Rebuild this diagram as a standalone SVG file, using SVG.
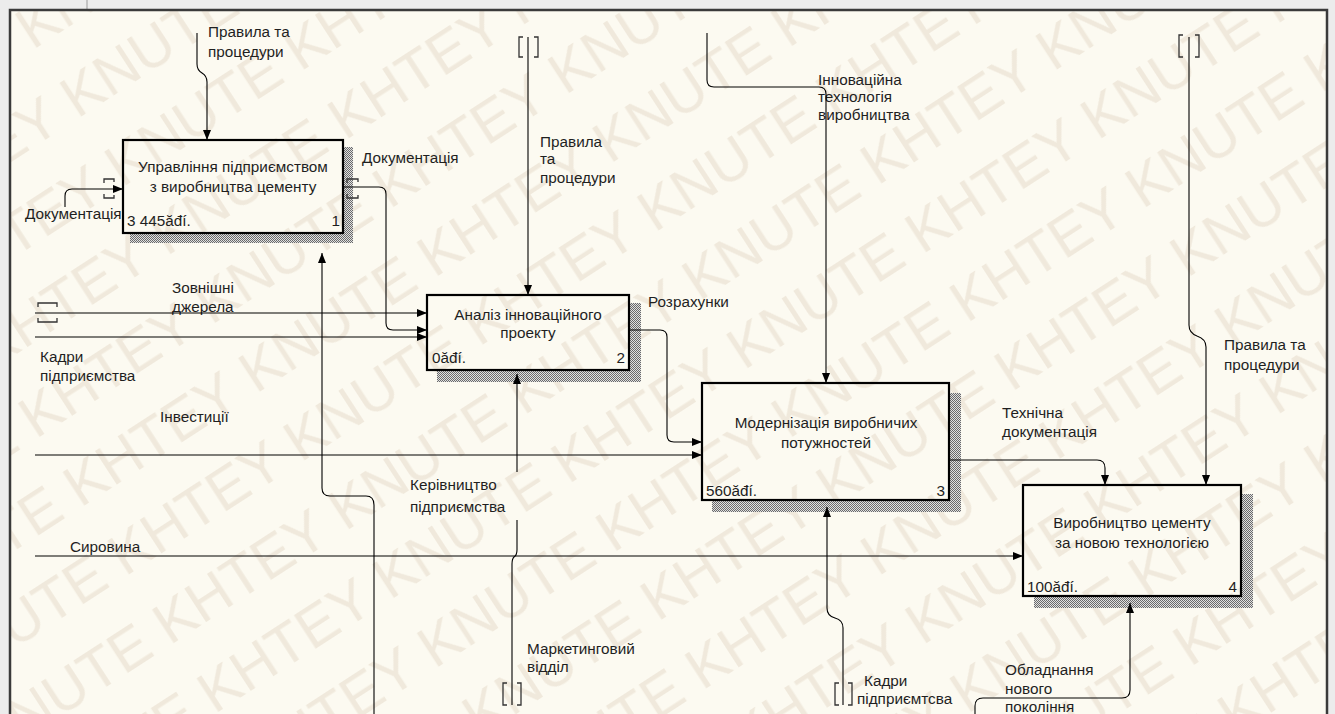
<svg xmlns="http://www.w3.org/2000/svg" width="1335" height="714" viewBox="0 0 1335 714">
<defs>
<style>
.t{font-family:"Liberation Sans",Arial,sans-serif;font-size:15.3px;fill:#1f1f1f}
.c{text-anchor:middle}
.e{text-anchor:end}
.box{fill:none;stroke:#000;stroke-width:2.2}
.ln{fill:none;stroke:#000;stroke-width:1.1}
.ar{marker-end:url(#ah)}
.br{fill:none;stroke:#333;stroke-width:1.3}
.wm{font-family:"Liberation Sans",Arial,sans-serif;font-size:58px;fill:#F0E9DC}
</style>
<marker id="ah" markerUnits="userSpaceOnUse" markerWidth="11" markerHeight="9" refX="10" refY="4" orient="auto">
<path d="M0,0 L10,4 L0,8 z" fill="#000"/>
</marker>
<pattern id="hatch" patternUnits="userSpaceOnUse" width="2" height="2">
<rect width="2" height="2" fill="#e0e0e0"/>
<rect width="1" height="1" fill="#6a6a6a"/>
<rect x="1" y="1" width="1" height="1" fill="#6a6a6a"/>
</pattern>
<pattern id="wmp" patternUnits="userSpaceOnUse" width="422" height="82" patternTransform="rotate(-33)">
<text class="wm" x="0" y="60">KNUTE KHTEY </text>
</pattern>
</defs>
<rect width="1335" height="714" fill="#ECECEC"/>
<line x1="87" y1="0" x2="87" y2="9" stroke="#9a9a9a" stroke-width="1"/>
<rect x="10" y="10" width="1317" height="720" fill="#FCFAF1"/>
<rect x="10" y="10" width="1317" height="720" fill="url(#wmp)"/>
<rect x="10" y="10" width="1317" height="720" fill="none" stroke="#3a3a3a" stroke-width="2.5"/>

<g id="labels">
<text class="t" x="208" y="37">Правила та</text>
<text class="t" x="208" y="57">процедури</text>
<text class="t" x="25" y="219">Документація</text>
<text class="t" x="362" y="163">Документація</text>
<text class="t" x="540" y="147">Правила</text>
<text class="t" x="540" y="164">та</text>
<text class="t" x="540" y="183">процедури</text>
<text class="t" x="818" y="85">Інноваційна</text>
<text class="t" x="818" y="102">технологія</text>
<text class="t" x="818" y="120">виробництва</text>
<text class="t" x="172" y="293">Зовнішні</text>
<text class="t" x="172" y="312">джерела</text>
<text class="t" x="40" y="362">Кадри</text>
<text class="t" x="40" y="381">підприємства</text>
<text class="t" x="648" y="307">Розрахунки</text>
<text class="t" x="160" y="422">Інвестиції</text>
<text class="t" x="1002" y="418">Технічна</text>
<text class="t" x="1002" y="437">документація</text>
<text class="t" x="1224" y="350">Правила та</text>
<text class="t" x="1224" y="370">процедури</text>
<text class="t" x="410" y="490">Керівництво</text>
<text class="t" x="410" y="512">підприємства</text>
<text class="t" x="70" y="552">Сировина</text>
<text class="t" x="527" y="654">Маркетинговий</text>
<text class="t" x="527" y="672">відділ</text>
<text class="t" x="864" y="686">Кадри</text>
<text class="t" x="857" y="704">підприємтсва</text>
<text class="t" x="1005" y="675">Обладнання</text>
<text class="t" x="1005" y="694">нового</text>
<text class="t" x="1005" y="712">покоління</text>
</g>

<g id="node1">
<path d="M343,147 H353 V243 H130 V233 H343 Z" fill="url(#hatch)"/>
<rect class="box" x="123" y="140" width="220" height="93"/>
<text class="t c" x="233" y="172">Управління підприємством</text>
<text class="t c" x="233" y="192">з виробництва цементу</text>
<text class="t" x="127" y="226">3 445ăđí.</text>
<text class="t e" x="340" y="226">1</text>
</g>

<g id="node2">
<path d="M629,303 H641 V382 H437 V370 H629 Z" fill="url(#hatch)"/>
<rect class="box" x="427" y="295" width="202" height="75"/>
<text class="t c" x="528" y="320">Аналіз інноваційного</text>
<text class="t c" x="528" y="338">проекту</text>
<text class="t" x="432" y="363">0ăđí.</text>
<text class="t e" x="625" y="363">2</text>
</g>

<g id="node3">
<path d="M949,393 H961 V512 H712 V500 H949 Z" fill="url(#hatch)"/>
<rect class="box" x="702" y="383" width="247" height="117"/>
<text class="t c" x="826" y="428">Модернізація виробничих</text>
<text class="t c" x="826" y="448">потужностей</text>
<text class="t" x="706" y="496">560ăđí.</text>
<text class="t e" x="945" y="496">3</text>
</g>

<g id="node4">
<path d="M1241,494 H1253 V608 H1034 V596 H1241 Z" fill="url(#hatch)"/>
<rect class="box" x="1023" y="485" width="218" height="111"/>
<text class="t c" x="1132" y="528">Виробництво цементу</text>
<text class="t c" x="1132" y="548">за новою технологією</text>
<text class="t" x="1027" y="592">100ăđí.</text>
<text class="t e" x="1237" y="592">4</text>
</g>

<g id="connectors">
<path class="ln ar" d="M197,33 V64 Q197,70 202,73 Q207,76 207,82 V140"/>
<path class="ln ar" d="M65,207 V196 Q65,189 72,189 H123"/>
<path class="br" d="M114,182 V179 H104 V183 M114,195 V198 H104 V194"/>
<path class="ln ar" d="M343,187 H379 Q386,187 386,194 V323 Q386,330 393,330 H427"/>
<path class="br" d="M347,183 V179 H358 V182 M347,194 V198 H358 V195"/>
<path class="ln ar" d="M35,313 H427"/>
<path class="br" d="M38,307 V303 H57 V307 M38,318 V322 H57 V318"/>
<path class="ln ar" d="M35,337 H427"/>
<path class="ln ar" d="M528,37 V295"/>
<path class="br" d="M523,37 H519 V57 H523 M534,37 H538 V57 H534"/>
<path class="ln ar" d="M517,472 V374"/>
<path class="ln" d="M517,520 V550 Q517,555 514,557 Q512,559 512,564 V705"/>
<path class="br" d="M507,683 H503 V705 H507 M517,683 H521 V705 H517"/>
<path class="ln ar" d="M374,714 V505 Q374,496 366,496 H330 Q322,496 322,488 V253"/>
<path class="ln ar" d="M629,330 H660 Q667,330 667,337 V435 Q667,442 674,442 H702"/>
<path class="ln ar" d="M35,455 H702"/>
<path class="ln ar" d="M707,33 V80 Q707,87 714,87 H819 Q826,87 826,94 V383"/>
<path class="ln ar" d="M843,705 V628 Q843,620 835,618 Q827,616 827,608 V507"/>
<path class="br" d="M839,683 H835 V705 H839 M848,683 H852 V705 H848"/>
<path class="ln ar" d="M35,556 H1023"/>
<path class="ln ar" d="M949,460 H1097 Q1105,460 1105,468 V485"/>
<path class="ln ar" d="M1189,37 V325 Q1189,333 1197,336 Q1206,339 1206,347 V485"/>
<path class="br" d="M1183,35 H1179 V57 H1183 M1195,35 H1199 V57 H1195"/>
<path class="ln ar" d="M975,714 V706 Q975,698 983,698 H1122 Q1130,698 1130,690 V603"/>
</g>
</svg>
